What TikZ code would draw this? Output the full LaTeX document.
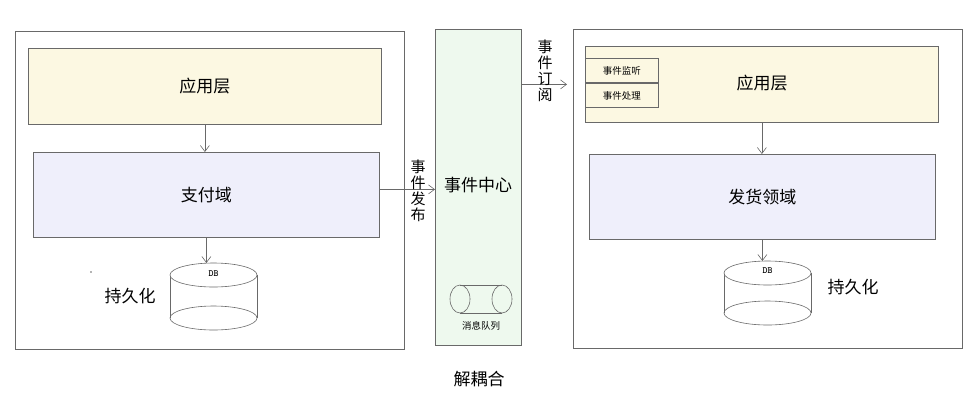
\documentclass[tikz,border=0pt]{standalone}
\usepackage{fontspec}
\setmainfont{Noto Sans CJK SC}
\usetikzlibrary{arrows.meta, calc, positioning}
\definecolor{linegray}{RGB}{105,105,105}
\definecolor{appfill}{RGB}{252,248,226}
\definecolor{domfill}{RGB}{239,239,251}
\definecolor{hubfill}{RGB}{238,249,238}

\begin{document}
\begin{tikzpicture}[x=1pt,y=-1pt,
    box/.style={draw=linegray, line width=0.8pt, inner sep=0pt, anchor=north west, font=\fontsize{17pt}{20pt}\selectfont},
    smallbox/.style={draw=linegray, line width=0.8pt, inner sep=0pt, anchor=north west, minimum width=73pt, minimum height=24pt, font=\fontsize{9.5pt}{11pt}\selectfont},
    arr/.style={draw=linegray, line width=0.6pt, -{Straight Barb[length=6pt,width=9pt]}},
    vlabel/.style={align=center, inner sep=0pt, font=\fontsize{15pt}{16pt}\selectfont},
    txt/.style={inner sep=0pt, font=\fontsize{17pt}{20pt}\selectfont},
    dbtxt/.style={inner sep=0pt, font=\ttfamily\bfseries\fontsize{9.5pt}{10pt}\selectfont},
    cyl/.style={draw=linegray, line width=0.6pt}]
\useasboundingbox (0,0) rectangle (979,416);
\fill[white] (0,0) rectangle (979,416);

% Left context
\node[box, minimum width=389pt, minimum height=318pt] (ctxL) at (15,31) {};
\node[box, fill=appfill, minimum width=353pt, minimum height=76pt] (appL) at (28,48) {应用层};
\node[box, fill=domfill, minimum width=346pt, minimum height=85pt] (payDom) at (33,152) {支付域};
\draw[arr] (appL.south) -- (appL.south |- payDom.north);

% Left DB
\draw[cyl] (170,275) -- (170,318) (257,275) -- (257,318);
\draw[cyl] (213.5,318) ellipse (43.5 and 12);
\draw[cyl, fill=white] (213.5,275) ellipse (43.5 and 12);
\coordinate (dbLtop) at (207,263);
\node[dbtxt] (dbL) at (213.5,274) {DB};
\draw[arr] (payDom.south) -- (payDom.south |- dbLtop);
\node[txt] (persistL) at (130,296) {持久化};
\fill[linegray] (91,272) circle (0.8pt);

% Event hub
\node[box, fill=hubfill, minimum width=86pt, minimum height=316pt] (hub) at (435,29) {};
\node[txt] (hubText) at (478,185) {事件中心};
\draw[cyl] (460,285) -- (502,285) (460,313) -- (502,313);
\draw[cyl] (460,299) ellipse (10 and 14);
\draw[cyl] (502,299) ellipse (10 and 14);
\node[inner sep=0pt, font=\fontsize{9.5pt}{11pt}\selectfont] (queue) at (481,326) {消息队列};

% Right context
\node[box, minimum width=389pt, minimum height=319pt] (ctxR) at (573,29) {};
\node[box, fill=appfill, minimum width=353pt, minimum height=76pt] (appR) at (585,46) {};
\node[txt] (appRText) at (762,83) {应用层};
\node[smallbox] (listen) at (585,58) {事件监听};
\node[smallbox] (handle) at (585,83) {事件处理};
\node[box, fill=domfill, minimum width=346pt, minimum height=85pt] (shipDom) at (589,154) {发货领域};
\draw[arr] (appR.south) -- (appR.south |- shipDom.north);

% Right DB
\draw[cyl] (724,273) -- (724,313) (811,273) -- (811,313);
\draw[cyl] (767.5,313) ellipse (43.5 and 12);
\draw[cyl, fill=white] (767.5,273) ellipse (43.5 and 12);
\coordinate (dbRtop) at (761,261);
\node[dbtxt] (dbR) at (767.5,271) {DB};
\draw[arr] (shipDom.south) -- (shipDom.south |- dbRtop);
\node[txt] (persistR) at (853,287) {持久化};

% Publish / subscribe
\draw[arr] ([yshift=5.5pt]payDom.east) -- ([yshift=5.5pt]payDom.east -| hub.west);
\node[vlabel] (pub) at (418,191) {事\\件\\发\\布};
\draw[arr, shorten >=6pt] (hub.east |- appR.center) -- (ctxR.west |- appR.center);
\node[vlabel] (sub) at (545,71) {事\\件\\订\\阅};

\node[txt] (decouple) at (479,379) {解耦合};
\end{tikzpicture}
\end{document}
